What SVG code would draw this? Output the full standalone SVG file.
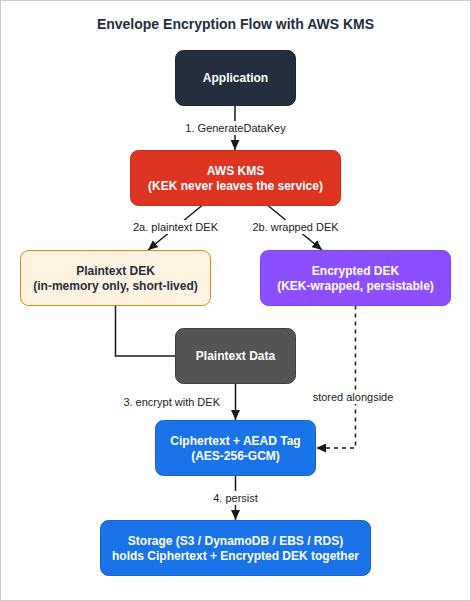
<svg xmlns="http://www.w3.org/2000/svg" width="471" height="601" viewBox="0 0 471 601">
<defs>
<style>
.title{font-family:"Liberation Sans",Arial,sans-serif;font-size:14px;font-weight:bold;fill:#232f3e;text-anchor:middle}
.nt{font-family:"Liberation Sans",Arial,sans-serif;font-size:12px;font-weight:bold;fill:#ffffff;text-anchor:middle}
.nt.dark{fill:#232f3e}
.el{font-family:"Liberation Sans",Arial,sans-serif;font-size:11px;fill:#1a1a1a;text-anchor:middle}
.edge{fill:none;stroke:#1a1a1a;stroke-width:1.5}
.dash{stroke-dasharray:4 4}
.lbg{fill:#ffffff}
</style>
<marker id="arr" markerWidth="10" markerHeight="9" refX="10" refY="4.5" orient="auto" markerUnits="userSpaceOnUse">
<path d="M0,0 L10,4.5 L0,9 z" fill="#1a1a1a"/>
</marker>
</defs>
<rect x="0.5" y="0.5" width="470" height="600" fill="#ffffff" stroke="#cccccc" stroke-width="1"/>
<text class="title" x="235.5" y="29">Envelope Encryption Flow with AWS KMS</text>

<g id="connectors">
<path class="edge" d="M235,106 V150" marker-end="url(#arr)"/>
<path class="edge" d="M202,205.5 L148,250" marker-end="url(#arr)"/>
<path class="edge" d="M268,205.5 L322,250" marker-end="url(#arr)"/>
<path class="edge" d="M115.5,305.5 V356 H175.5"/>
<path class="edge" d="M235.5,383.5 V420" marker-end="url(#arr)"/>
<path class="edge dash" d="M355.5,305.5 V448 H316" marker-end="url(#arr)"/>
<path class="edge" d="M235.5,475.5 V520" marker-end="url(#arr)"/>
<rect class="lbg" x="185" y="121" width="101" height="14"/>
<text class="el" x="235.5" y="132">1. GenerateDataKey</text>
<rect class="lbg" x="130" y="220" width="91" height="14"/>
<text class="el" x="175.5" y="231.3">2a. plaintext DEK</text>
<rect class="lbg" x="255" y="220" width="81" height="14"/>
<text class="el" x="295.5" y="231.3">2b. wrapped DEK</text>
<text class="el" x="171.7" y="405.7">3. encrypt with DEK</text>
<rect class="lbg" x="314" y="390" width="78" height="14"/>
<text class="el" x="353" y="400.7">stored alongside</text>
<rect class="lbg" x="212" y="491" width="47" height="14"/>
<text class="el" x="235.5" y="502">4. persist</text>
</g>

<g id="node-application">
<rect x="175.5" y="50.5" width="120" height="55" rx="8" fill="#232f3e" stroke="#1b2430"/>
<text class="nt" x="235.5" y="82.3">Application</text>
</g>
<g id="node-kms">
<rect x="130.5" y="150.5" width="210" height="55" rx="8" fill="#dd3522" stroke="#c42e1c"/>
<text class="nt" x="235.5" y="175">AWS KMS</text>
<text class="nt" x="235.5" y="189.5">(KEK never leaves the service)</text>
</g>
<g id="node-plaintext-dek">
<rect x="20.5" y="250.5" width="190" height="55" rx="8" fill="#fef2e0" stroke="#d9881a"/>
<text class="nt dark" x="115.5" y="275.3">Plaintext DEK</text>
<text class="nt dark" x="115.5" y="290">(in-memory only, short-lived)</text>
</g>
<g id="node-encrypted-dek">
<rect x="260.5" y="250.5" width="190" height="55" rx="8" fill="#8c4fff" stroke="#7b43e6"/>
<text class="nt" x="355.5" y="275.3">Encrypted DEK</text>
<text class="nt" x="355.5" y="290">(KEK-wrapped, persistable)</text>
</g>
<g id="node-plaintext-data">
<rect x="175.5" y="328.5" width="120" height="55" rx="8" fill="#545454" stroke="#404040"/>
<text class="nt" x="235.5" y="360.3">Plaintext Data</text>
</g>
<g id="node-ciphertext">
<rect x="155.5" y="420.5" width="160" height="55" rx="8" fill="#1a73e8" stroke="#1662c8"/>
<text class="nt" x="235.5" y="445">Ciphertext + AEAD Tag</text>
<text class="nt" x="235.5" y="460">(AES-256-GCM)</text>
</g>
<g id="node-storage">
<rect x="100.5" y="520.5" width="270" height="55" rx="8" fill="#1a73e8" stroke="#1662c8"/>
<text class="nt" x="235.5" y="545">Storage (S3 / DynamoDB / EBS / RDS)</text>
<text class="nt" x="235.5" y="559.5">holds Ciphertext + Encrypted DEK together</text>
</g>
</svg>
